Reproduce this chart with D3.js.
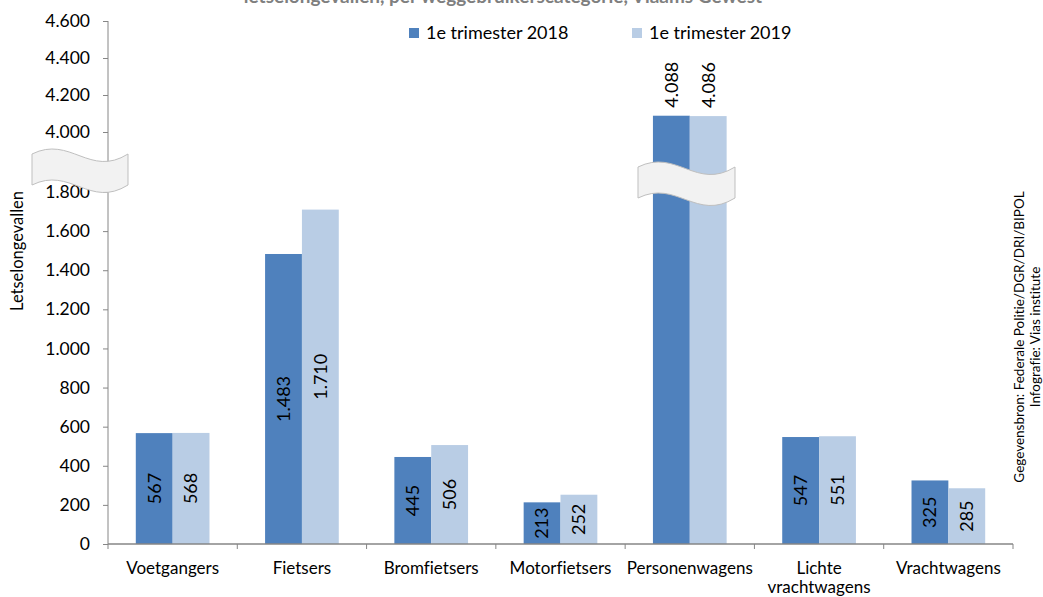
<!DOCTYPE html>
<html>
<head>
<meta charset="utf-8">
<script src="https://cdn.jsdelivr.net/npm/d3@7"></script>
<style>
  html, body { margin: 0; padding: 0; background: #fff; }
  svg { display: block; font-family: Lato, "Open Sans", sans-serif; font-variant-ligatures: none; }
</style>
</head>
<body>
<svg id="chart" width="1043" height="597"></svg>
<script>
// Letselongevallen per weggebruikerscategorie, 1e trimester 2018 vs 2019
const categories = ["Voetgangers", "Fietsers", "Bromfietsers", "Motorfietsers",
                    "Personenwagens", "Lichte vrachtwagens", "Vrachtwagens"];
const series2018 = [567, 1483, 445, 213, 4088, 547, 325];
const series2019 = [568, 1710, 506, 252, 4086, 551, 285];
const seriesNames = ["1e trimester 2018", "1e trimester 2019"];
const lowTicks = [0, 200, 400, 600, 800, 1000, 1200, 1400, 1600, 1800];
const highTicks = [4000, 4200, 4400, 4600];

const colors = ["#4F81BD", "#B9CDE5"];
const axisColor = "#868686";

const nl = d3.formatLocale({ decimal: ",", thousands: ".", grouping: [3], currency: ["€", ""] });
const fmt = nl.format(",d");

const svg = d3.select("#chart");

const left = 108, right = 1013, bottom = 544;

// broken value axis: lower segment and upper segment
const yLow = d3.scaleLinear().domain([0, 1800]).range([bottom, 192]);
const yHigh = d3.scaleLinear().domain([4000, 4600]).range([132, 21]);
const yVal = v => v > 1800 ? yHigh(v) : yLow(v);

const x0 = d3.scaleBand().domain(categories).range([left, right]).paddingInner(0.43).paddingOuter(0.215);
const x1 = d3.scaleBand().domain([0, 1]).range([0, x0.bandwidth()]);

// title (top line runs above the drawing area)
svg.append("text")
  .attr("x", 503).attr("y", 3)
  .attr("text-anchor", "middle")
  .attr("font-weight", "bold").attr("font-size", 19)
  .attr("fill", "#7f7f7f")
  .text("letselongevallen, per weggebruikerscategorie, Vlaams Gewest");

// bars
const data = categories.map((c, i) => ({ cat: c, vals: [series2018[i], series2019[i]] }));
const groups = svg.append("g").selectAll("g").data(data).join("g")
  .attr("transform", d => `translate(${x0(d.cat)},0)`);

groups.selectAll("rect").data(d => d.vals.map((v, k) => ({ v, k }))).join("rect")
  .attr("x", d => x1(d.k))
  .attr("y", d => yVal(d.v))
  .attr("width", x1.bandwidth())
  .attr("height", d => bottom - yVal(d.v))
  .attr("fill", d => colors[d.k]);

// value labels (rotated)
groups.selectAll("text").data(d => d.vals.map((v, k) => ({ v, k }))).join("text")
  .attr("transform", d => {
    const cx = x1(d.k) + x1.bandwidth() / 2;
    if (d.v > 1800) {
      return `translate(${cx},${yVal(d.v) - 8}) rotate(-90)`;
    }
    return `translate(${cx},${(bottom + yVal(d.v)) / 2}) rotate(-90)`;
  })
  .attr("text-anchor", d => d.v > 1800 ? "start" : "middle")
  .attr("dy", "0.35em")
  .attr("font-size", 18)
  .attr("fill", "#000")
  .text(d => fmt(d.v));

// y axes
const axLow = svg.append("g").attr("transform", `translate(${left},0)`)
  .call(d3.axisLeft(yLow).tickValues(lowTicks).tickSize(5).tickPadding(13).tickFormat(fmt));
const axHigh = svg.append("g").attr("transform", `translate(${left},0)`)
  .call(d3.axisLeft(yHigh).tickValues(highTicks).tickSize(5).tickPadding(13).tickFormat(fmt));
[axLow, axHigh].forEach(a => {
  a.select(".domain").remove();
  a.selectAll(".tick line").attr("stroke", axisColor);
  a.selectAll(".tick text").attr("font-size", 17.5).attr("fill", "#000").attr("font-family", "Lato, sans-serif");
});
svg.append("line")
  .attr("x1", left).attr("x2", left)
  .attr("y1", yHigh(4600)).attr("y2", bottom)
  .attr("stroke", axisColor);

// x axis
svg.append("line")
  .attr("x1", left).attr("x2", right)
  .attr("y1", bottom).attr("y2", bottom)
  .attr("stroke", axisColor).attr("stroke-width", 1.5);
const step = x0.step();
svg.append("g").selectAll("line").data(d3.range(categories.length + 1)).join("line")
  .attr("x1", i => left + i * step).attr("x2", i => left + i * step)
  .attr("y1", bottom).attr("y2", bottom + 5)
  .attr("stroke", axisColor);

svg.append("g").selectAll("text").data(categories).join("text")
  .attr("x", d => x0(d) + x0.bandwidth() / 2)
  .attr("y", 574)
  .attr("text-anchor", "middle")
  .attr("font-size", 17)
  .attr("fill", "#000")
  .each(function (d) {
    const words = d === "Lichte vrachtwagens" ? ["Lichte", "vrachtwagens"] : [d];
    d3.select(this).selectAll("tspan").data(words).join("tspan")
      .attr("x", x0(d) + x0.bandwidth() / 2)
      .attr("dy", (w, i) => i === 0 ? 0 : 19)
      .text(w => w);
  });

// break symbols
function breakPath(x, y, w, h) {
  const top = `M${x},${y} C${x + w * 0.4},${y - 19} ${x + w * 0.6},${y + 24} ${x + w},${y}`;
  const bot = `L${x + w},${y + h} C${x + w * 0.6},${y + h + 24} ${x + w * 0.4},${y + h - 19} ${x},${y + h} Z`;
  return top + " " + bot;
}
svg.append("path")
  .attr("d", breakPath(32, 154, 96, 31))
  .attr("fill", "#f2f2f2").attr("stroke", "#bfbfbf");
svg.append("path")
  .attr("d", breakPath(638, 167, 97, 31))
  .attr("fill", "#f2f2f2").attr("stroke", "#bfbfbf");

// axis title
svg.append("text")
  .attr("transform", "translate(17,251) rotate(-90)")
  .attr("text-anchor", "middle").attr("dy", "0.35em")
  .attr("font-size", 16.5).attr("fill", "#000")
  .text("Letselongevallen");

// legend
const legend = svg.append("g").selectAll("g").data(seriesNames).join("g")
  .attr("transform", (d, i) => `translate(${i === 0 ? 409 : 632},28)`);
legend.append("rect").attr("width", 10).attr("height", 10).attr("fill", (d, i) => colors[i]);
legend.append("text").attr("x", 17).attr("y", 11)
  .attr("font-size", 18).attr("fill", "#000").text(d => d);

// source note
svg.append("text")
  .attr("transform", "translate(1019,337) rotate(-90)")
  .attr("text-anchor", "middle").attr("dy", "0.35em")
  .attr("font-size", 13.5).attr("fill", "#000")
  .text("Gegevensbron: Federale Politie/DGR/DRI/BIPOL");
svg.append("text")
  .attr("transform", "translate(1035,337) rotate(-90)")
  .attr("text-anchor", "middle").attr("dy", "0.35em")
  .attr("font-size", 13.5).attr("fill", "#000")
  .text("Infografie: Vias institute");
</script>
</body>
</html>
